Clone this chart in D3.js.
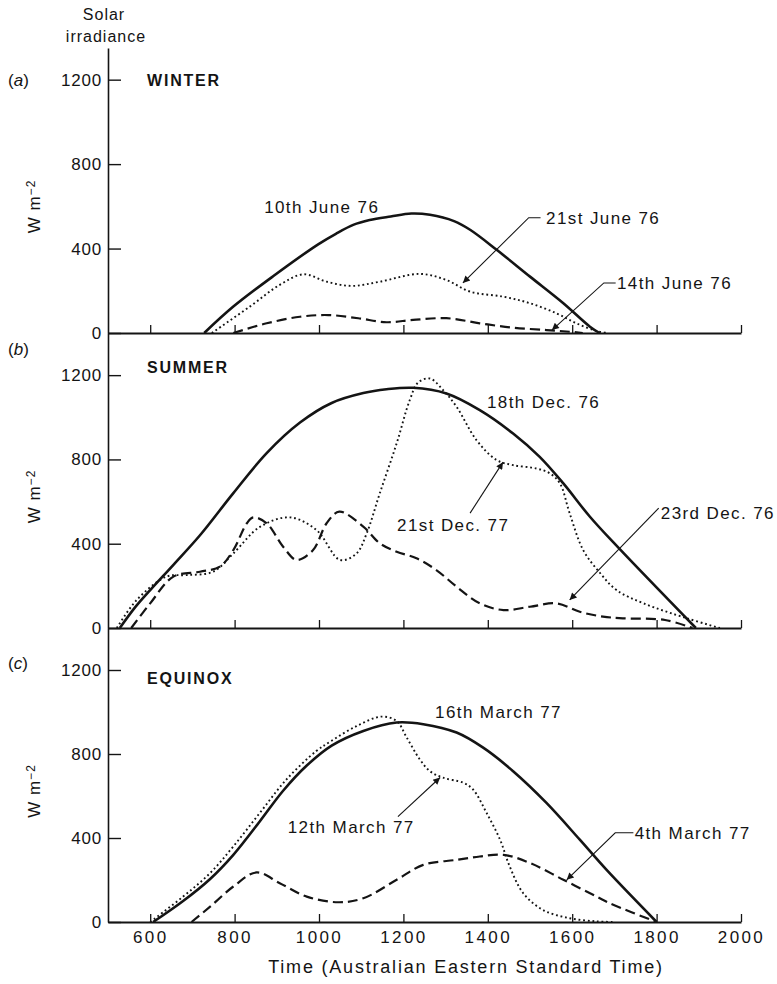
<!DOCTYPE html>
<html>
<head>
<meta charset="utf-8">
<script src="https://cdn.jsdelivr.net/npm/d3@7"></script>
<style>
  body { margin: 0; background: #fff; }
  text { font-family: "Liberation Sans", Arial, Helvetica, sans-serif; fill: #141414; }
</style>
</head>
<body>
<svg id="chart" width="777" height="984"></svg>
<script>
// Axis ticks
const timeTicks = [600, 800, 1000, 1200, 1400, 1600, 1800, 2000];
const irradianceTicks = [0, 400, 800, 1200];

// (a) Winter — [time (AEST), irradiance W m-2]
const june10 = [[728,0],[797,125],[892,270],[998,420],[1040,470],[1081,512],[1120,535],[1170,552],[1219,566],[1263,560],[1320,530],[1358,489],[1421,394],[1500,267],[1579,141],[1642,30],[1665,0]];
const june21 = [[746,0],[836,125],[907,228],[963,278],[1018,243],[1077,223],[1144,243],[1239,280],[1302,251],[1358,196],[1437,172],[1500,141],[1563,93],[1610,46],[1660,8],[1685,0]];
const june14 = [[797,0],[876,46],[955,77],[1022,85],[1093,70],[1160,51],[1223,62],[1302,70],[1381,46],[1460,25],[1539,14],[1594,6],[1625,0]];

// (b) Summer
const dec18 = [[528,0],[565,100],[600,180],[655,300],[718,440],[797,640],[876,830],[955,975],[1030,1068],[1105,1115],[1160,1133],[1223,1140],[1302,1113],[1381,1034],[1460,923],[1523,812],[1579,686],[1642,528],[1710,380],[1893,0]];
const dec21 = [[521,0],[568,133],[639,244],[686,251],[749,267],[797,354],[860,480],[931,525],[994,465],[1050,323],[1089,354],[1113,449],[1144,639],[1184,876],[1215,1081],[1235,1165],[1263,1184],[1294,1129],[1326,1050],[1373,892],[1421,797],[1460,773],[1515,757],[1547,734],[1571,686],[1594,544],[1626,370],[1666,261],[1705,180],[1769,117],[1872,46],[1950,0]];
const dec23 = [[555,0],[600,117],[655,244],[718,267],[765,291],[797,370],[829,497],[844,525],[876,497],[915,386],[947,323],[986,370],[1018,497],[1048,552],[1105,481],[1144,402],[1184,362],[1231,331],[1278,275],[1326,196],[1381,117],[1437,85],[1500,101],[1563,117],[1618,77],[1673,54],[1720,46],[1820,38],[1885,0]];

// (c) Equinox
const mar16 = [[607,0],[678,100],[742,205],[797,320],[860,480],[915,625],[971,745],[1030,840],[1105,910],[1184,950],[1247,942],[1326,902],[1389,830],[1460,718],[1539,567],[1618,392],[1681,249],[1800,0]];
const mar12 = [[600,0],[678,121],[742,233],[797,360],[860,520],[923,679],[994,815],[1026,858],[1089,933],[1148,978],[1184,957],[1208,878],[1239,774],[1263,718],[1294,687],[1342,663],[1365,631],[1397,520],[1429,392],[1452,264],[1484,137],[1531,57],[1594,18],[1658,3],[1700,0]];
const mar4 = [[698,0],[742,73],[797,169],[852,236],[907,185],[971,121],[1046,94],[1105,113],[1184,201],[1247,272],[1326,296],[1381,312],[1437,320],[1500,281],[1579,201],[1658,121],[1689,89],[1800,0]];

// Curve labels: text anchor and optional leader (time, irradiance)
const winterNotes = [
  { text: "10th June 76", at: [870, 598] },
  { text: "21st June 76", at: [1538, 546], leader: [[1525, 546], [1497, 546], [1341, 237]] },
  { text: "14th June 76", at: [1706, 237], leader: [[1703, 237], [1675, 237], [1552, 14]] }
];
const summerNotes = [
  { text: "18th Dec. 76", at: [1398, 1072] },
  { text: "21st Dec. 77", at: [1185, 489], leader: [[1358, 545], [1436, 787]] },
  { text: "23rd Dec. 76", at: [1810, 545], leader: [[1805, 569], [1594, 133]] }
];
const equinoxNotes = [
  { text: "16th March 77", at: [1275, 999] },
  { text: "12th March 77", at: [926, 454], leader: [[1187, 502], [1287, 688]] },
  { text: "4th March 77", at: [1748, 425], leader: [[1745, 425], [1702, 425], [1587, 201]] }
];

const panels = [
  { tag: "a", title: "WINTER",  top: 48,  bottom: 333, yMax: 1350, tagY: 80,  titleY: 80,
    series: [[june10, "solid"], [june21, "dotted"], [june14, "dashed"]], notes: winterNotes },
  { tag: "b", title: "SUMMER",  top: 333, bottom: 628, yMax: 1400, tagY: 349, titleY: 367,
    series: [[dec18, "solid"], [dec21, "dotted"], [dec23, "dashed"]], notes: summerNotes },
  { tag: "c", title: "EQUINOX", top: 628, bottom: 922, yMax: 1400, tagY: 663, titleY: 678,
    series: [[mar16, "solid"], [mar12, "dotted"], [mar4, "dashed"]], notes: equinoxNotes }
];

const lineStyles = {
  solid:  { width: 2.6, dash: null },
  dotted: { width: 1.9, dash: "1.8,2.8" },
  dashed: { width: 2.2, dash: "10,5" }
};

const svg = d3.select("#chart");
const x = d3.scaleLinear().domain([500, 2000]).range([108, 741]);
const plain = d3.format("d");

svg.append("defs").append("marker")
  .attr("id", "arrow")
  .attr("viewBox", "0 0 10 10")
  .attr("refX", 10).attr("refY", 5)
  .attr("markerWidth", 11).attr("markerHeight", 7)
  .attr("markerUnits", "userSpaceOnUse")
  .attr("orient", "auto")
  .append("path").attr("d", "M0,0 L10,5 L0,10 Z").attr("fill", "#141414");

// Y-axis caption
const cap = svg.append("text").attr("text-anchor", "middle").style("font-size", "16px").style("letter-spacing", "1px");
cap.append("tspan").attr("x", 104).attr("y", 20).text("Solar");
cap.append("tspan").attr("x", 106).attr("y", 42).text("irradiance");

panels.forEach((p, i) => {
  const y = d3.scaleLinear().domain([0, p.yMax]).range([p.bottom, p.top]);
  const g = svg.append("g");

  // Y axis (ticks pointing inward)
  const ya = g.append("g").attr("transform", `translate(${x.range()[0]},0)`)
    .call(d3.axisLeft(y).tickValues(irradianceTicks).tickFormat(plain)
      .tickSizeInner(-13).tickSizeOuter(0).tickPadding(6));
  ya.select(".domain").attr("stroke", "#141414").attr("stroke-width", 1.6);
  ya.selectAll(".tick line").attr("stroke", "#141414").attr("stroke-width", 1.4);
  ya.selectAll(".tick text").style("font-size", "17px").style("letter-spacing", "0.8px")
    .style("font-family", '"Liberation Sans", Arial, sans-serif').attr("fill", "#141414");

  // X axis along zero line
  const xa = g.append("g").attr("transform", `translate(0,${y(0)})`)
    .call(d3.axisBottom(x).tickValues(timeTicks).tickFormat(plain)
      .tickSizeInner(-8).tickSizeOuter(0).tickPadding(9));
  xa.select(".domain").attr("stroke", "#141414").attr("stroke-width", 1.8);
  xa.selectAll(".tick line").attr("stroke", "#141414").attr("stroke-width", 1.3);
  xa.selectAll(".tick text").style("font-size", "17px").style("letter-spacing", "2.4px")
    .style("font-family", '"Liberation Sans", Arial, sans-serif').attr("fill", "#141414")
    .style("display", i === panels.length - 1 ? null : "none");

  // Panel tag and season title
  const tag = g.append("text").attr("x", 8).attr("y", p.tagY).attr("dy", "0.35em").style("font-size", "17px");
  tag.append("tspan").text("(");
  tag.append("tspan").style("font-style", "italic").text(p.tag);
  tag.append("tspan").text(")");

  g.append("text").attr("x", 147).attr("y", p.titleY).attr("dy", "0.35em")
    .style("font-size", "16px").style("font-weight", "bold").style("letter-spacing", "1.8px")
    .text(p.title);

  // Units label
  const mid = (p.top + 32 + p.bottom) / 2;
  const u = g.append("text").attr("transform", `translate(40,${mid}) rotate(-90)`)
    .attr("text-anchor", "middle").style("font-size", "17px").style("letter-spacing", "1px");
  u.append("tspan").text("W m");
  u.append("tspan").attr("dy", "-0.45em").style("font-size", "12px").text("\u22122");

  // Curves
  const line = d3.line().x(d => x(d[0])).y(d => y(d[1])).curve(d3.curveCatmullRom.alpha(0.5));
  p.series.forEach(([data, kind]) => {
    const s = lineStyles[kind];
    g.append("path").datum(data)
      .attr("d", line)
      .attr("fill", "none")
      .attr("stroke", "#141414")
      .attr("stroke-width", s.width)
      .attr("stroke-dasharray", s.dash)
      .attr("stroke-linejoin", "round");
  });

  // Curve labels and leaders
  p.notes.forEach(n => {
    g.append("text").attr("x", x(n.at[0])).attr("y", y(n.at[1])).attr("dy", "0.35em")
      .style("font-size", "17px").style("letter-spacing", "1.4px").text(n.text);
    if (n.leader) {
      g.append("path")
        .attr("d", d3.line().x(d => x(d[0])).y(d => y(d[1]))(n.leader))
        .attr("fill", "none").attr("stroke", "#141414").attr("stroke-width", 1.1)
        .attr("marker-end", "url(#arrow)");
    }
  });
});

// X-axis caption
svg.append("text").attr("x", 466).attr("y", 967).attr("dy", "0.35em").attr("text-anchor", "middle")
  .style("font-size", "18px").style("letter-spacing", "1.8px")
  .text("Time (Australian Eastern Standard Time)");
</script>
</body>
</html>
